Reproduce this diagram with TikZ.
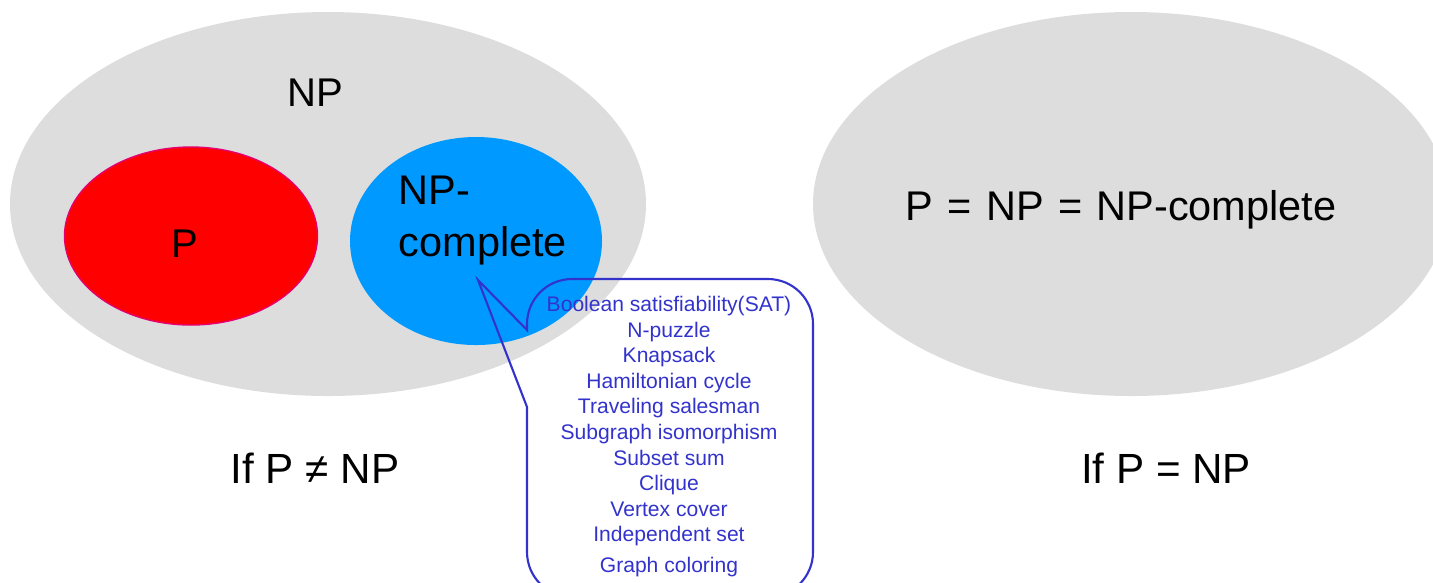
\documentclass[tikz,border=0pt]{standalone}
\usepackage{fontspec}
\setmainfont{Liberation Sans}
\usepackage{tikz}
\usetikzlibrary{shapes,positioning}
\definecolor{my_gray}{RGB}{221,221,221}
\definecolor{my_red}{RGB}{255,0,0}
\definecolor{my_pink}{RGB}{230,0,110}
\definecolor{my_blue}{RGB}{0,153,255}
\definecolor{my_ink}{RGB}{51,51,204}
\tikzset{
  set_n/.style = {ellipse, inner sep=0pt, draw=none},
  set_np/.style = {set_n, fill=my_gray, minimum width=6.36cm, minimum height=3.84cm},
  set_p/.style = {set_n, fill=my_red, draw=my_pink, line width=0.4pt, minimum width=2.53cm,
  minimum height=1.78cm},
  set_npc/.style = {set_n, fill=my_blue, minimum width=2.52cm, minimum height=2.08cm},
  set_txt/.style = {inner sep=0pt, text=black, font=\fontsize{11.4}{14.8}\selectfont},
  caption/.style = {anchor=base, inner sep=0pt, font=\fontsize{12}{14}\selectfont}
}

\begin{document}
\begin{tikzpicture}[
            balloon/.style={draw=my_ink, line width=0.6pt},
            problems/.style={align=center, inner sep=0pt, text=my_ink,
            font=\fontsize{6}{7.28}\selectfont}]
  \useasboundingbox (0,0) rectangle (14.33,-5.82);
  \clip (0,0) rectangle (14.33,-5.82);
  % if P != NP
  \node [set_np] (np) at (3.28,-2.04) {};
  \node [set_txt] (np_lbl) at (3.15,-0.925) {NP};
  \node [set_p] (p) at (1.91,-2.36) {};
  \node [set_txt, anchor=base] (p_lbl) at (1.85,-2.57) {P};
  \node [set_npc] (npc) at (4.76,-2.41) {};
  \node [set_txt, align=left, anchor=north west, font=\fontsize{11.8}{14.8}\selectfont]
    (npc_lbl) at (3.98,-1.75) {NP-\\complete};
  \node [caption] (if_neq) at (3.15,-4.83) {If P ≠ NP};
  % callout
  \coordinate (tip) at (4.78,-2.80);
  \draw [balloon] (5.27,-3.30) -- (tip) -- (5.27,-4.07) -- (5.27,-5.52)
    arc[start angle=180, end angle=270, radius=0.45] -- (7.68,-5.97)
    arc[start angle=270, end angle=360, radius=0.45] -- (8.13,-3.24)
    arc[start angle=0, end angle=90, radius=0.45] -- (5.72,-2.79)
    arc[start angle=90, end angle=180, radius=0.45] -- cycle;
  \node [problems, anchor=north] (list) at (6.69,-2.955) {Boolean satisfiability(SAT)\\N-puzzle\\Knapsack\\
    Hamiltonian cycle\\Traveling salesman\\Subgraph isomorphism\\Subset sum\\Clique\\Vertex cover\\
    Independent set\\[1.5pt]Graph coloring};
  % if P = NP
  \node [set_np] (eq) at (11.31,-2.04) {};
  \node [set_txt, anchor=base, font=\fontsize{11.8}{14.8}\selectfont] (eq_lbl) at (11.21,-2.20)
    {P\hspace{0.8pt} = \hspace{0.8pt}NP\hspace{0.8pt} = \hspace{0.8pt}NP-complete};
  \node [caption] (if_eq) at (11.66,-4.83) {If P = NP};
\end{tikzpicture}
\end{document}
